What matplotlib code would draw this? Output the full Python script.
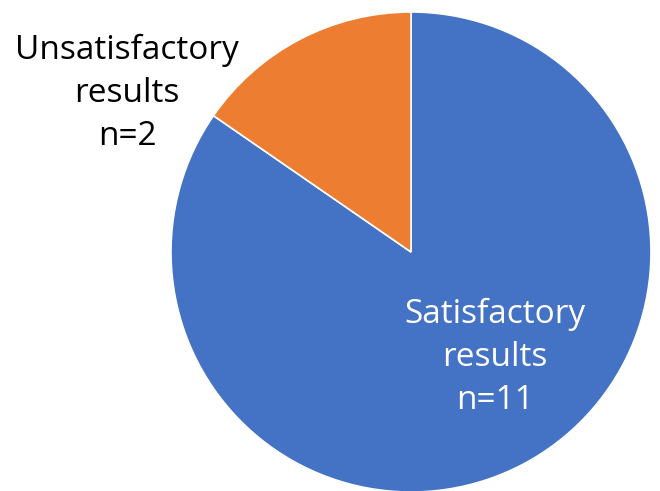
import matplotlib
matplotlib.use("Agg")
import matplotlib.pyplot as plt

categories = ["Satisfactory results", "Unsatisfactory results"]
counts = [11, 2]
label_texts = ["Satisfactory\nresults\nn=11", "Unsatisfactory\nresults\nn=2"]
colors = ["#4472C4", "#ED7D31"]

W, H = 660, 491
fig = plt.figure(figsize=(W / 100, H / 100), dpi=100)
cx, cy, r = 411, 252, 240
ax = fig.add_axes([(cx - r) / W, (H - cy - r) / H, 2 * r / W, 2 * r / H])
ax.pie(counts, colors=colors, startangle=90, counterclock=False,
       wedgeprops=dict(edgecolor="white", linewidth=1.2), radius=1)
ax.set_xlim(-1, 1)
ax.set_ylim(-1, 1)
ax.set_aspect("equal")
ax.axis("off")

fs = 24
fig.text(495 / W, 1 - 357 / H, label_texts[0], color="white", fontsize=fs,
         ha="center", va="center", linespacing=1.4, family="Open Sans")
fig.text(127 / W, 1 - 93 / H, label_texts[1], color="black", fontsize=fs,
         ha="center", va="center", linespacing=1.4, family="Open Sans")

fig.savefig("out.png", dpi=100)
